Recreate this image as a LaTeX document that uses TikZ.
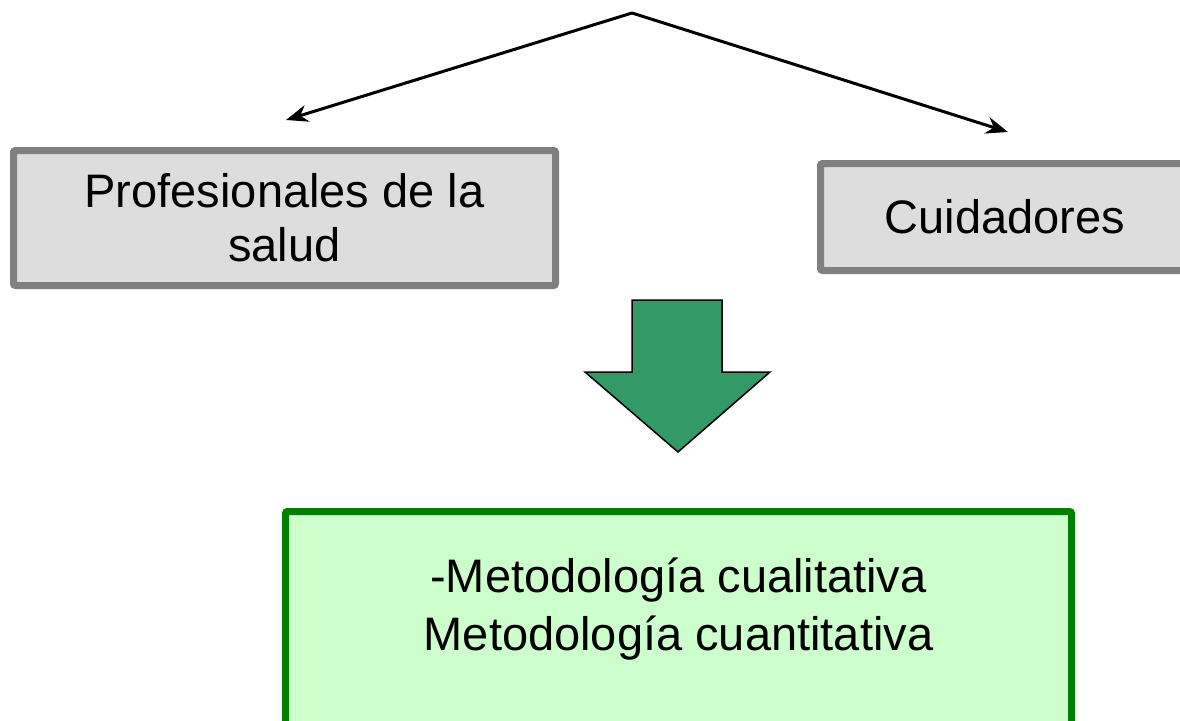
\documentclass[tikz,border=0pt]{standalone}
\usepackage{fontspec}
\setmainfont{Liberation Sans}
\usetikzlibrary{arrows.meta}
\definecolor{boxgray}{HTML}{DDDDDD}
\definecolor{bordgray}{HTML}{808080}
\definecolor{arrgreen}{HTML}{339966}
\definecolor{bordgreen}{HTML}{008000}
\definecolor{fillgreen}{HTML}{CCFFCC}
\tikzset{
  graybox/.style={draw=bordgray, fill=boxgray, line width=7pt, rounded corners=2pt, inner sep=0pt, align=center, font=\fontsize{47}{54}\selectfont},
  greenbox/.style={draw=bordgreen, fill=fillgreen, line width=7pt, rounded corners=2pt, inner sep=0pt},
  txt/.style={align=center, inner sep=0pt, font=\fontsize{47}{54}\selectfont},
  arr/.style={line width=3pt, -{Stealth[length=22pt,width=17pt]}},
  bigarrow/.style={fill=arrgreen, draw=black, line width=1.5pt, line join=miter}
}
\begin{document}
\begin{tikzpicture}[x=1pt,y=-1pt]
\useasboundingbox (0,0) rectangle (1180,720);
\clip (0,0) rectangle (1180,720);
\fill[white] (0,0) rectangle (1180,720);
\node[graybox, minimum width=542pt, minimum height=135pt] (prof) at (284.5,218) {Profesionales de la\\salud};
\node[graybox, minimum width=369pt, minimum height=107pt] (cuid) at (1005,217) {Cuidadores};
\coordinate (apex) at (632,13);
\coordinate (la) at (286,120);
\coordinate (ra) at (1008,132);
\draw[arr] (apex) -- (la);
\draw[arr] (apex) -- (ra);
\draw[bigarrow] (632,300) -- (722,300) -- (722,372) -- (770,372) -- (678,452) -- (585,372) -- (632,372) -- cycle;
\node[greenbox, minimum width=786pt, minimum height=240pt] (meth) at (678.5,631.5) {};
\node[txt] (mtext) at (678.5,609) {-Metodología cualitativa\\[4pt]Metodología cuantitativa};
\end{tikzpicture}
\end{document}
